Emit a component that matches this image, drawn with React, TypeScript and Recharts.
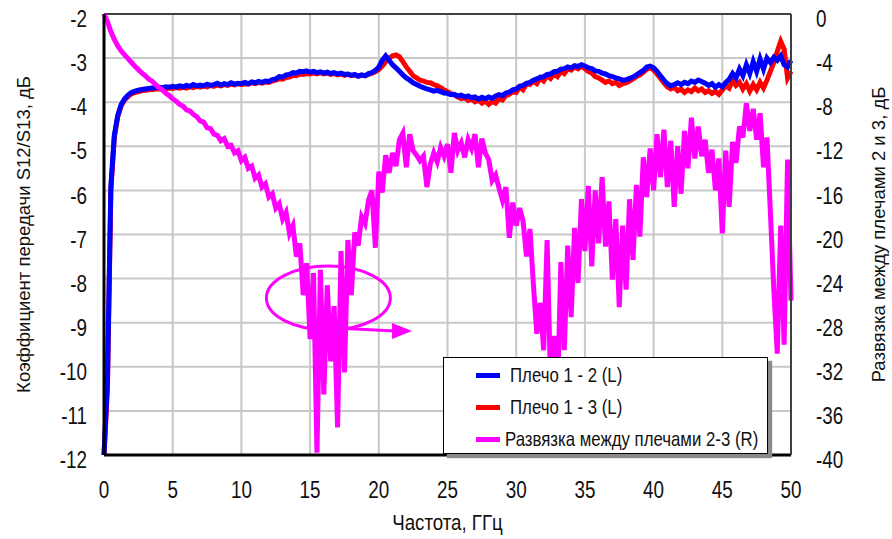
import { LineChart, Line, XAxis, YAxis, CartesianGrid, Legend, ReferenceLine, ReferenceDot } from 'recharts';

// S12 (arm 1-2), dB, step 0.25 GHz from 0 to 50 GHz
const arm12 = [
  -12, -10.3, -5.9, -4.75, -4.3, -4.05, -3.92, -3.84, -3.78, -3.75, -3.73, -3.71, -3.7, -3.69, -3.68, -3.67, -3.66, -3.67, -3.65, -3.66,
  -3.64, -3.66, -3.63, -3.65, -3.62, -3.64, -3.6, -3.63, -3.61, -3.63, -3.59, -3.62, -3.6, -3.57, -3.61, -3.58, -3.6, -3.56, -3.59, -3.57,
  -3.58, -3.55, -3.58, -3.54, -3.56, -3.53, -3.55, -3.52, -3.53, -3.49, -3.47, -3.42, -3.43, -3.38, -3.37, -3.33, -3.34, -3.3, -3.31, -3.29,
  -3.32, -3.3, -3.33, -3.31, -3.34, -3.32, -3.35, -3.33, -3.36, -3.34, -3.37, -3.36, -3.39, -3.37, -3.41, -3.38, -3.4, -3.35, -3.33, -3.28,
  -3.2, -3.05, -2.95, -3.05, -3.15, -3.22, -3.3, -3.38, -3.45, -3.5, -3.56, -3.6, -3.64, -3.67, -3.7, -3.72, -3.75, -3.73, -3.76, -3.79,
  -3.8, -3.83, -3.82, -3.86, -3.84, -3.88, -3.86, -3.9, -3.88, -3.93, -3.89, -3.92, -3.88, -3.91, -3.86, -3.83, -3.85, -3.79, -3.77, -3.72,
  -3.7, -3.64, -3.62, -3.57, -3.55, -3.5, -3.47, -3.44, -3.42, -3.37, -3.36, -3.31, -3.3, -3.25, -3.24, -3.2, -3.22, -3.17, -3.19, -3.15,
  -3.18, -3.22, -3.24, -3.29, -3.3, -3.34, -3.36, -3.4, -3.42, -3.45, -3.47, -3.5, -3.49, -3.46, -3.43, -3.38, -3.33, -3.28, -3.2, -3.18,
  -3.22, -3.3, -3.4, -3.5, -3.58, -3.63, -3.6, -3.56, -3.6, -3.55, -3.58, -3.52, -3.55, -3.5, -3.53, -3.57, -3.62, -3.58, -3.66, -3.6,
  -3.65, -3.55, -3.48, -3.35, -3.45, -3.25, -3.4, -3.15, -3.35, -3.08, -3.3, -3.02, -3.25, -3.0, -3.1, -2.98, -3.05, -2.95, -3.15, -3.2,
  -3.05,
];

// S13 (arm 1-3), dB
const arm13 = [
  -12, -10.5, -6.0, -4.8, -4.33, -4.08, -3.95, -3.87, -3.81, -3.78, -3.76, -3.74, -3.73, -3.72, -3.71, -3.7, -3.7, -3.69, -3.7, -3.68,
  -3.69, -3.67, -3.68, -3.66, -3.68, -3.65, -3.67, -3.64, -3.66, -3.63, -3.65, -3.62, -3.64, -3.61, -3.63, -3.6, -3.62, -3.59, -3.61, -3.58,
  -3.6, -3.58, -3.59, -3.56, -3.58, -3.55, -3.57, -3.54, -3.55, -3.52, -3.5, -3.47, -3.48, -3.44, -3.43, -3.39, -3.4, -3.36, -3.37, -3.35,
  -3.36, -3.34, -3.36, -3.33, -3.36, -3.34, -3.37, -3.35, -3.38, -3.36, -3.39, -3.37, -3.4, -3.38, -3.41, -3.39, -3.4, -3.37, -3.34, -3.31,
  -3.26, -3.18, -3.08, -3.0, -2.95, -2.93, -2.97, -3.08, -3.2, -3.3, -3.4, -3.45, -3.5, -3.52, -3.55, -3.56, -3.6, -3.63, -3.67, -3.72,
  -3.76, -3.8, -3.84, -3.88, -3.92, -3.9, -3.96, -3.93, -3.99, -3.95, -4.02, -3.97, -4.05, -3.98, -4.02, -3.92, -3.95, -3.85, -3.82, -3.76,
  -3.78, -3.66, -3.72, -3.58, -3.6, -3.52, -3.58, -3.45, -3.52, -3.4, -3.46, -3.36, -3.42, -3.3, -3.35, -3.24, -3.27, -3.2, -3.24, -3.18,
  -3.24, -3.3, -3.34, -3.42, -3.45, -3.5, -3.55, -3.52, -3.58, -3.55, -3.62, -3.58, -3.56, -3.52, -3.47, -3.42, -3.38, -3.32, -3.25, -3.22,
  -3.27, -3.36, -3.46, -3.56, -3.65, -3.7, -3.66, -3.74, -3.7, -3.78, -3.72, -3.76, -3.68, -3.74, -3.7, -3.78, -3.74, -3.8, -3.75, -3.82,
  -3.72, -3.62, -3.68, -3.5, -3.62, -3.55, -3.7, -3.58, -3.75, -3.6, -3.72, -3.55, -3.68, -3.5, -3.3, -3.1, -2.85, -2.62, -2.8, -3.45,
  -3.3,
];

// isolation between arms 2-3, dB (right axis)
const isolation = [
  0, -0.7, -1.6, -2.3, -2.9, -3.35, -3.7, -4.05, -4.4, -4.75, -5.05, -5.35, -5.6, -5.9, -6.1, -6.4, -6.7, -6.9, -7.2, -7.4,
  -7.7, -7.9, -8.2, -8.35, -8.7, -8.8, -9.1, -9.3, -9.7, -9.8, -10.3, -10.4, -10.9, -11.0, -11.5, -11.3, -12.0, -11.9, -12.6, -12.4,
  -13.3, -13.0, -14.0, -13.8, -14.9, -14.6, -15.7, -15.4, -16.6, -16.3, -17.6, -17.2, -18.6, -18.0, -19.9, -19.2, -22.0, -20.8, -25.5, -22.6,
  -29.5, -23.5, -39.8, -23.2, -34.5, -24.6, -31.5, -26.5, -37.5, -21.5, -32.5, -20.5, -25.5, -19.8, -21.0, -18.4, -19.0, -16.9, -16.0, -21.2,
  -14.3, -16.2, -12.8, -14.4, -12.6, -13.8, -11.4, -10.8, -13.9, -10.9, -12.4, -12.8, -13.3, -12.9, -15.7, -13.6, -12.6, -13.4, -12.1, -12.9,
  -11.8, -14.4, -10.8, -12.4, -11.7, -13.0, -11.4, -12.2, -10.9, -13.9, -11.3, -12.6, -13.2, -15.1, -14.6, -15.8, -16.9, -15.7, -20.3, -17.1,
  -19.2, -17.6, -18.8, -22.0, -19.5, -24.5, -29.0, -26.2, -30.5, -20.5, -33.5, -29.2, -35.0, -22.5, -30.5, -21.0, -27.5, -19.4, -24.4, -16.8,
  -21.5, -15.6, -22.9, -16.0, -20.8, -14.8, -21.1, -17.0, -24.1, -18.6, -26.6, -19.2, -25.0, -16.8, -22.3, -15.5, -20.2, -13.0, -16.6, -12.2,
  -16.0, -10.9, -14.8, -10.5, -15.7, -11.5, -17.5, -12.0, -16.3, -10.6, -14.0, -9.4, -13.1, -10.2, -12.9, -11.4, -14.4, -12.3, -16.0, -13.1,
  -19.9, -12.4, -17.5, -11.6, -13.5, -10.2, -11.2, -8.1, -10.6, -8.6, -11.4, -9.0, -13.9, -11.2, -18.0, -25.0, -30.8, -19.2, -30.0, -13.2,
  -26.0,
];

const FREQ_STEP = 0.25;
const xTicks = [0, 5, 10, 15, 20, 25, 30, 35, 40, 45, 50];
const leftTicks = [-2, -3, -4, -5, -6, -7, -8, -9, -10, -11, -12];
const rightTicks = [0, -4, -8, -12, -16, -20, -24, -28, -32, -36, -40];

const rows = arm12.map((v, i) => ({ f: i * FREQ_STEP, p12: v, p13: arm13[i], iso: isolation[i] }));

const SANS = "'Liberation Sans', Arial, sans-serif";
const MAG = '#FF00FF';
// the original labels are in a condensed face, squeeze horizontally
const SQ = 0.82;
const squeeze = (x: number) => `translate(${x} 0) scale(${SQ} 1) translate(${-x} 0)`;

const LeftTick = ({ x, y, payload }: any) => (
  <text x={x} y={y + 5} dy="0.355em" textAnchor="end" fontSize={23} fontFamily={SANS} fill="#111" transform={squeeze(x)}>{payload.value}</text>
);
const RightTick = ({ x, y, payload }: any) => (
  <text x={x} y={y + 5} dy="0.355em" textAnchor="start" fontSize={23} fontFamily={SANS} fill="#111" transform={squeeze(x)}>{payload.value}</text>
);
const BottomTick = ({ x, y, payload }: any) => (
  <text x={x} y={y} dy="0.71em" textAnchor="middle" fontSize={23} fontFamily={SANS} fill="#111" transform={squeeze(x)}>{payload.value}</text>
);

const legendOrder = ['p12', 'p13', 'iso'];
const renderLegend = ({ payload }: any) => {
  const items = legendOrder.map((k) => (payload || []).find((p: any) => p.dataKey === k)).filter(Boolean);
  return (
    <div style={{ paddingTop: 1 }}>
      {items.map((p: any) => (
        <div key={p.dataKey} style={{ display: 'flex', alignItems: 'center', height: 32, paddingLeft: 32 }}>
          <div style={{ width: 24, height: 5, background: p.color, flex: 'none' }} />
          <span
            style={{
              marginLeft: p.dataKey === 'iso' ? 5 : 10,
              fontFamily: SANS,
              fontSize: 21,
              color: '#111',
              whiteSpace: 'nowrap',
              display: 'inline-block',
              transform: 'scaleX(0.8)',
              transformOrigin: 'left center',
            }}
          >
            {p.value}
          </span>
        </div>
      ))}
    </div>
  );
};

const Ellipse = ({ cx, cy }: any) => (
  <ellipse cx={cx} cy={cy} rx={62} ry={32} fill="none" stroke={MAG} strokeWidth={3} />
);
const ArrowHead = ({ cx, cy }: any) => (
  <polygon points={`${cx},${cy} ${cx - 20},${cy - 8} ${cx - 20},${cy + 8}`} fill={MAG} />
);

export default function App() {
  return (
    <div style={{ position: 'absolute', left: 0, top: 0, width: 892, height: 539, background: '#fff' }}>
      <LineChart width={892} height={539} data={rows} margin={{ top: 14, right: 0, bottom: 0, left: 0 }}>
        <CartesianGrid yAxisId="left" stroke="#c8c8c8" strokeWidth={2} horizontalValues={leftTicks} verticalValues={xTicks} />
        <XAxis
          dataKey="f"
          type="number"
          domain={[0, 50]}
          ticks={xTicks}
          height={84}
          tickSize={0}
          tickMargin={27}
          tickLine={false}
          axisLine={{ stroke: '#000', strokeWidth: 3 }}
          tick={<BottomTick />}
          label={{
            content: ({ viewBox }: any) => {
              const cx = viewBox.x + viewBox.width / 2;
              return (
                <text x={cx} y={viewBox.y + 75} textAnchor="middle" fontSize={22} fontFamily={SANS} fill="#111" transform={`translate(${cx} 0) scale(0.85 1) translate(${-cx} 0)`}>
                  Частота, ГГц
                </text>
              );
            },
          }}
        />
        <YAxis
          yAxisId="left"
          domain={[-12, -2]}
          ticks={leftTicks}
          width={104}
          tickSize={0}
          tickMargin={17}
          tickLine={false}
          axisLine={{ stroke: '#000', strokeWidth: 3 }}
          tick={<LeftTick />}
          label={{
            content: ({ viewBox }: any) => {
              const cy = viewBox.y + viewBox.height / 2;
              return (
                <text x={30} y={cy} transform={`rotate(-90 30 ${cy})`} textAnchor="middle" fontSize={18.5} fontFamily={SANS} fill="#111">
                  Коэффициент передачи S12/S13, дБ
                </text>
              );
            },
          }}
        />
        <YAxis
          yAxisId="right"
          orientation="right"
          domain={[-40, 0]}
          ticks={rightTicks}
          width={101}
          tickSize={0}
          tickMargin={25}
          tickLine={false}
          axisLine={{ stroke: '#404040', strokeWidth: 2 }}
          tick={<RightTick />}
          label={{
            content: ({ viewBox }: any) => {
              const cy = viewBox.y + viewBox.height / 2;
              return (
                <text x={885} y={cy} transform={`rotate(-90 885 ${cy})`} textAnchor="middle" fontSize={18.5} fontFamily={SANS} fill="#111">
                  Развязка между плечами 2 и 3, дБ
                </text>
              );
            },
          }}
        />
        <ReferenceLine yAxisId="left" y={-2} stroke="#404040" strokeWidth={2} />
        <Line yAxisId="left" type="linear" dataKey="p13" name="Плечо 1 - 3 (L)" stroke="#FF0000" strokeWidth={5} dot={false} isAnimationActive={false} />
        <Line yAxisId="left" type="linear" dataKey="p12" name="Плечо 1 - 2 (L)" stroke="#0000FF" strokeWidth={5} dot={false} isAnimationActive={false} />
        <Line yAxisId="right" type="linear" dataKey="iso" name="Развязка между плечами 2-3 (R)" stroke={MAG} strokeWidth={5} dot={false} isAnimationActive={false} />
        <ReferenceDot yAxisId="left" x={16.33} y={-8.44} shape={<Ellipse />} />
        <ReferenceLine yAxisId="left" segment={[{ x: 17.55, y: -9.13 }, { x: 21.2, y: -9.19 }]} stroke={MAG} strokeWidth={3} />
        <ReferenceDot yAxisId="left" x={22.42} y={-9.19} shape={<ArrowHead />} />
        <Legend
          layout="vertical"
          align="center"
          verticalAlign="middle"
          content={renderLegend}
          wrapperStyle={{
            left: 443,
            top: 357,
            width: 325,
            height: 97,
            background: '#fff',
            border: '1.5px solid #000',
            boxShadow: '4px 4px 1px #8a8a8a',
            boxSizing: 'border-box',
          }}
        />
      </LineChart>
    </div>
  );
}
